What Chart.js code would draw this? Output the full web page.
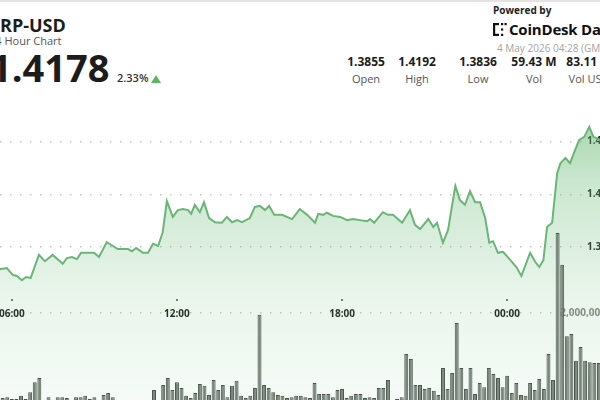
<!DOCTYPE html>
<html>
<head>
<meta charset="utf-8">
<script src="https://cdn.jsdelivr.net/npm/chart.js@4.4.1/dist/chart.umd.min.js"></script>
<style>
  html, body { margin: 0; padding: 0; background: #fff; }
  body { width: 600px; height: 400px; overflow: hidden; position: relative; font-family: "Open Sans", sans-serif; color: #1c1c1c; }
  .abs { position: absolute; white-space: nowrap; }
  .topline { left: 0; top: 0; width: 600px; height: 2px; background: #e3e3e3; }
  #pair { left: -12px; top: 16px; font-size: 18px; line-height: 18px; font-weight: 700; }
  #sub { left: -11px; top: 35px; font-size: 11px; line-height: 11px; color: #555; }
  #last { left: -10px; top: 48px; font-size: 38px; line-height: 38px; font-weight: 700; }
  #chg { left: 117px; top: 72px; font-size: 11px; line-height: 11px; font-weight: 600; color: #333; }
  #tri { left: 151px; top: 75px; width: 0; height: 0; border-left: 5.5px solid transparent; border-right: 5.5px solid transparent; border-bottom: 8px solid #5cb660; }
  #powered { left: 493px; top: 5px; font-size: 10px; line-height: 10px; font-weight: 700; color: #222; }
  #logo { left: 493px; top: 23px; }
  #brand { left: 509px; top: 22px; font-size: 15px; line-height: 15px; font-weight: 700; letter-spacing: -0.2px; color: #111; }
  #stamp { left: 497px; top: 43px; font-size: 10px; line-height: 10px; color: #a3a3a3; }
  .stat { width: 70px; text-align: center; }
  .stat .v { font-size: 12px; line-height: 12px; font-weight: 700; color: #1c1c1c; }
  .stat .l { margin-top: 5px; font-size: 11px; line-height: 11px; color: #555; }
  #chart { position: absolute; left: -40px; top: 90px; }
</style>
</head>
<body>
<div class="abs topline"></div>
<div class="abs" id="pair">XRP-USD</div>
<div class="abs" id="sub">24 Hour Chart</div>
<div class="abs" id="last">1.4178</div>
<div class="abs" id="chg">2.33%</div>
<div class="abs" id="tri"></div>
<div class="abs" id="powered">Powered by</div>
<svg class="abs" id="logo" width="14" height="13" viewBox="0 0 14 13">
  <rect x="0" y="0" width="2.2" height="13" fill="#111"/>
  <rect x="0" y="0" width="6" height="2.2" fill="#111"/>
  <rect x="0" y="10.8" width="6" height="2.2" fill="#111"/>
  <rect x="8" y="0" width="2.2" height="2.2" fill="#111"/>
  <rect x="11.5" y="0" width="2.2" height="2.2" fill="#111"/>
  <rect x="8" y="5.4" width="2.2" height="2.2" fill="#111"/>
  <rect x="8" y="10.8" width="2.2" height="2.2" fill="#111"/>
</svg>
<div class="abs" id="brand">CoinDesk Data</div>
<div class="abs" id="stamp">4 May 2026 04:28 (GMT)</div>
<div id="stats"></div>
<canvas id="chart" width="660" height="314"></canvas>
<script>
// header stats
const statValues = ['1.3855', '1.4192', '1.3836', '59.43 M', '83.11 M'];
const statLabels = ['Open', 'High', 'Low', 'Vol', 'Vol USD'];
const statCenters = [366, 417, 478, 534, 589];

// price line: minutes from 00:00 on 4 May (negative = 3 May)
const priceTimes = [
  -1170, -1150, -1128, -1106, -1091, -1078, -1069, -1058, -1049, -1039,
  -1021, -1008, -991, -969, -960, -949, -938, -929, -916, -901,
  -890, -873, -849, -827, -818, -809, -794, -783, -772, -761,
  -751, -742, -729, -718, -707, -696, -689, -681, -670, -661,
  -650, -637, -622, -611, -600, -589, -578, -561, -550, -539,
  -528, -519, -508, -491, -469, -452, -436, -419, -412, -401,
  -393, -380, -364, -349, -336, -321, -305, -299, -290, -271,
  -260, -249, -229, -212, -201, -190, -172, -161, -153, -140,
  -129, -113, -103, -92, -81, -70, -59, -48, -39, -31,
  -20, -9, 7, 20, 31, 50, 61, 70, 79, 87,
  98, 109, 116, 127, 137, 148, 157, 168, 179, 188,
  203, 220, 238, 251
];
const prices = [
  1.3864, 1.3856, 1.3860, 1.3858, 1.3860, 1.3847, 1.3845, 1.3837, 1.3843, 1.3841,
  1.3885, 1.3873, 1.3885, 1.3868, 1.3879, 1.3881, 1.3877, 1.3889, 1.3889, 1.3889,
  1.3881, 1.3909, 1.3896, 1.3896, 1.3892, 1.3898, 1.3889, 1.3889, 1.3906, 1.3902,
  1.3928, 1.3987, 1.3957, 1.3970, 1.3972, 1.3970, 1.3963, 1.3980, 1.3966, 1.3985,
  1.3955, 1.3947, 1.3946, 1.3957, 1.3947, 1.3951, 1.3947, 1.3955, 1.3976, 1.3978,
  1.3970, 1.3978, 1.3961, 1.3961, 1.3953, 1.3972, 1.3961, 1.3946, 1.3963, 1.3961,
  1.3965, 1.3959, 1.3957, 1.3951, 1.3953, 1.3951, 1.3949, 1.3953, 1.3946, 1.3966,
  1.3961, 1.3961, 1.3946, 1.3970, 1.3942, 1.3934, 1.3953, 1.3938, 1.3946, 1.3908,
  1.3932, 1.4016, 1.3989, 1.3980, 1.4006, 1.3985, 1.3985, 1.3955, 1.3908, 1.3911,
  1.3889, 1.3891, 1.3875, 1.3862, 1.3845, 1.3889, 1.3872, 1.3862, 1.3875, 1.3938,
  1.3946, 1.4040, 1.4059, 1.4069, 1.4059, 1.4084, 1.4103, 1.4109, 1.4128, 1.4109,
  1.4103, 1.4107, 1.4116, 1.4122
];

// volume bars, one per 10 minutes, first bar at 04:30 on 3 May
const volStart = -1170;
const volumes = [
  150000, 180000, 200000, 150000, 180000, 200000, 180000, 130000, 150000, 110000,
  110000, 180000, 110000, 260000, 480000, 570000, 90000, 150000, 90000, 150000,
  150000, 130000, 70000, 150000, 150000, 180000, 110000, 150000, 70000, 200000,
  240000, 150000, 70000, 40000, 40000, 40000, 70000, 70000, 70000, 90000,
  310000, 70000, 420000, 570000, 310000, 480000, 350000, 180000, 130000, 240000,
  440000, 400000, 200000, 530000, 310000, 420000, 150000, 400000, 510000, 180000,
  130000, 180000, 350000, 1960000, 420000, 350000, 260000, 200000, 180000, 130000,
  150000, 180000, 180000, 150000, 130000, 460000, 220000, 220000, 220000, 150000,
  310000, 330000, 130000, 180000, 220000, 220000, 130000, 150000, 130000, 350000,
  350000, 530000, 90000, 110000, 150000, 1100000, 990000, 420000, 420000, 330000,
  350000, 290000, 200000, 790000, 330000, 680000, 1780000, 790000, 330000, 790000,
  220000, 460000, 370000, 790000, 660000, 570000, 370000, 620000, 240000, 460000,
  200000, 180000, 460000, 310000, 550000, 330000, 1100000, 530000, 3760000, 3060000,
  1490000, 1540000, 950000, 1250000, 950000, 920000, 900000, 900000, 370000, 600000,
  450000, 500000
];

// axes
const timeTicks = [-1080, -720, -360, 0];
const priceTicks = [1.39, 1.40, 1.41];
const volumeTicks = [2000000];

const stats = document.getElementById('stats');
statValues.forEach((v, i) => {
  const d = document.createElement('div');
  d.className = 'abs stat';
  d.style.left = (statCenters[i] - 35) + 'px';
  d.style.top = '56px';
  d.innerHTML = '<div class="v">' + v + '</div><div class="l">' + statLabels[i] + '</div>';
  stats.appendChild(d);
});

Chart.defaults.font.family = "'Open Sans', sans-serif";

const hhmm = (m) => {
  const t = ((m % 1440) + 1440) % 1440;
  return String(Math.floor(t / 60)).padStart(2, '0') + ':' + String(t % 60).padStart(2, '0');
};

// small dots above the time labels
const tickDots = {
  id: 'tickDots',
  afterDraw(chart) {
    const { ctx, scales: { x, yv } } = chart;
    const y = yv.getPixelForValue(volumeTicks[0]) - 14;
    ctx.save();
    ctx.fillStyle = '#777';
    timeTicks.forEach(t => {
      ctx.fillRect(Math.round(x.getPixelForValue(t)) - 1, y, 2, 2);
    });
    ctx.restore();
  }
};

const dotted = { color: '#c4c4c4', lineWidth: 1.5, drawTicks: false };
const noWidth = (axis) => { axis.width = 0; };

new Chart(document.getElementById('chart'), {
  data: {
    datasets: [{
      type: 'bar',
      label: 'Volume',
      yAxisID: 'yv',
      data: volumes.map((v, i) => ({ x: volStart + i * 10, y: v })),
      backgroundColor: '#78867b',
      borderColor: '#4a554c',
      borderWidth: 1,
      barPercentage: 0.86,
      categoryPercentage: 1
    }, {
      type: 'line',
      label: 'XRP-USD',
      yAxisID: 'y',
      data: priceTimes.map((t, i) => ({ x: t, y: prices[i] })),
      borderColor: '#69b676',
      borderWidth: 2,
      pointRadius: 0,
      tension: 0,
      fill: 'start',
      backgroundColor: (c) => {
        const area = c.chart.chartArea;
        if (!area) return 'rgba(0,0,0,0)';
        const g = c.chart.ctx.createLinearGradient(0, area.top, 0, area.bottom);
        g.addColorStop(0, 'rgba(86,176,100,0.62)');
        g.addColorStop(0.3, 'rgba(86,176,100,0.3)');
        g.addColorStop(0.65, 'rgba(86,176,100,0.13)');
        g.addColorStop(1, 'rgba(86,176,100,0.05)');
        return g;
      }
    }]
  },
  options: {
    responsive: false,
    animation: false,
    layout: { padding: 0, autoPadding: false },
    plugins: { legend: { display: false }, tooltip: { enabled: false } },
    scales: {
      x: {
        type: 'linear',
        offset: false,
        min: -1193,
        max: 246,
        position: { yv: volumeTicks[0] },
        afterBuildTicks: (axis) => { axis.ticks = timeTicks.map(v => ({ value: v })); },
        afterFit: (axis) => { axis.paddingLeft = 0; axis.paddingRight = 0; },
        grid: { display: false, offset: false },
        border: { display: false },
        ticks: {
          autoSkip: false, maxRotation: 0, padding: -13,
          color: '#1f1f1f', font: { size: 10, weight: 'bold' },
          callback: (v) => hhmm(v)
        }
      },
      y: {
        type: 'linear',
        position: 'right',
        min: 1.36021,
        max: 1.41979,
        afterBuildTicks: (axis) => { axis.ticks = priceTicks.map(v => ({ value: v })); },
        afterFit: noWidth,
        grid: dotted,
        border: { display: false, dash: [1.5, 8.5] },
        ticks: {
          mirror: true, padding: -13,
          color: '#2a2a2a', font: { size: 10, weight: 'bold' },
          callback: (v) => v.toFixed(2)
        }
      },
      yv: {
        type: 'linear',
        position: 'right',
        min: 0,
        max: 6901000,
        afterBuildTicks: (axis) => { axis.ticks = volumeTicks.map(v => ({ value: v })); },
        afterFit: noWidth,
        grid: dotted,
        border: { display: false, dash: [1.5, 8.5] },
        ticks: {
          mirror: true, padding: -14,
          color: '#8a8a8a', font: { size: 10, weight: 'bold' },
          callback: (v) => v.toLocaleString('en-US')
        }
      }
    }
  },
  plugins: [tickDots]
});
</script>
</body>
</html>
